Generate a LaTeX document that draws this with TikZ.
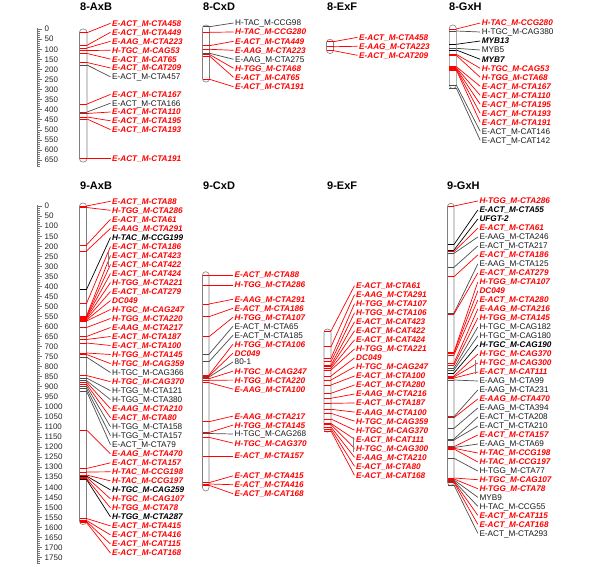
\documentclass[tikz,border=0pt]{standalone}
\usepackage{fontspec}
\setmainfont{Liberation Sans}
\definecolor{mred}{RGB}{255,0,0}
\colorlet{txtr}{mred}\colorlet{txtb}{black}\colorlet{txtk}{black!90}
\colorlet{lnr}{mred}\colorlet{lnb}{black}\colorlet{lnk}{black!70}
\def\fntr{\bfseries\itshape}\def\fntb{\bfseries\itshape}\def\fntk{}
\tikzset{
 chrom/.style={draw=black!50, fill=white, line width=0.6pt, rounded corners=3.2pt, inner sep=0pt},
 mline/.style={line width=0.7pt},
 mlab/.style={anchor=west, inner sep=0pt, text height=5.9pt, text depth=0pt, font=\fontsize{8.2}{9}\selectfont},
 ttl/.style={anchor=west, inner sep=0pt, font=\fontsize{11}{13}\selectfont\bfseries, text height=8pt, text depth=0pt},
 rul/.style={draw=black!55, line width=0.5pt},
 rlab/.style={anchor=west, inner sep=0pt, text height=5.8pt, text depth=0pt, font=\fontsize{8}{9}\selectfont, text=black!85},
 pairbar/.style={draw=black!50, line width=0.6pt}
}
\newcommand\chromo[5]{\node[chrom, minimum width={(#3-#2)*1pt}, minimum height={(#5-#4)*1pt}] (#1) at ({(#2+#3)/2},{(#4+#5)/2}) {};}
\newcommand\markers[5]{%
 \foreach \cy/\ly/\st/\tx [count=\i] in {#5}{%
   \coordinate (#1c\i) at (#3,\cy);
   \draw[mline,draw=ln\st] (#2,\cy) -- (#1c\i);
   \node[mlab,text=txt\st] (#1l\i) at (#4,\ly) {\csname fnt\st\endcsname\tx};
   \draw[mline,draw=ln\st] (#1c\i) -- ([xshift=-1.5pt]#1l\i.west);
 }}
\newcommand\ruler[5]{%
 \draw[rul] (37,{#2-5*#3}) coordinate (#1top) -- (37,{#2+#5*#3}) coordinate (#1bot);
 \foreach \v in {0,10,...,#5} \draw[rul] (37,{#2+\v*#3}) -- ++(2.6,0);
 \foreach \v in {0,50,...,#4} {\draw[rul] (37,{#2+\v*#3}) -- ++(4.6,0);
   \node[rlab] (#1n\v) at (44.5,{#2+\v*#3}) {\v};}
}
\begin{document}
\begin{tikzpicture}[x=1pt,y=-1pt]
\useasboundingbox (0,0) rectangle (600,567);
% titles
\node[ttl] (t8a) at (80,6.5) {8-AxB};
\node[ttl] (t8c) at (203,6.5) {8-CxD};
\node[ttl] (t8e) at (327,6.5) {8-ExF};
\node[ttl] (t8g) at (449,6.5) {8-GxH};
\node[ttl] (t9a) at (80,185.5) {9-AxB};
\node[ttl] (t9c) at (203,185.5) {9-CxD};
\node[ttl] (t9e) at (327,185.5) {9-ExF};
\node[ttl] (t9g) at (447,185.5) {9-GxH};
% rulers
\ruler{ra}{29}{0.2015}{650}{680}
\ruler{rb}{206}{0.2008}{1750}{1780}
% 8-AxB
\chromo{c8a}{79.5}{87}{29}{162}
\markers{a8}{79.5}{87}{112}{32.7/23.3/r/E-ACT\_M-CTA458,
45.3/32.3/r/E-ACT\_M-CTA449,
48/41.3/r/E-AAG\_M-CTA223,
50.5/50.3/r/H-TGC\_M-CAG53,
53.5/59.1/r/E-ACT\_M-CAT65,
62.5/68/r/E-ACT\_M-CAT209,
65/76.8/k/E-ACT\_M-CTA457,
104/94.4/r/E-ACT\_M-CTA167,
112/103.2/k/E-ACT\_M-CTA166,
113.5/112/r/E-ACT\_M-CTA110,
117/120.8/r/E-ACT\_M-CTA195,
119/129.6/r/E-ACT\_M-CTA193,
158.7/158.7/r/E-ACT\_M-CTA191}
% 8-CxD
\chromo{c8c}{202.5}{209.5}{25}{82}
\markers{c8}{202.5}{209.5}{235}{26.7/23/k/H-TAC\_M-CCG98,
32.3/32/r/H-TAC\_M-CCG280,
45.7/41.3/r/E-ACT\_M-CTA449,
49.3/50.3/r/E-AAG\_M-CTA223,
53.3/59.3/k/E-AAG\_M-CTA275,
54.5/68.3/r/H-TGG\_M-CTA68,
56/77.3/r/E-ACT\_M-CAT65,
79.3/86.7/r/E-ACT\_M-CTA191}
% 8-ExF
\chromo{c8e}{326.5}{333.5}{39.3}{53.5}
\markers{e8}{326.5}{333.5}{359}{41.7/37.3/r/E-ACT\_M-CTA458,
46.7/46.3/r/E-AAG\_M-CTA223,
50.7/55.3/r/E-ACT\_M-CAT209}
% 8-GxH
\chromo{c8g}{449.3}{456.3}{25}{88.5}
\markers{g8}{449.3}{456.3}{481.7}{29/23/r/H-TAC\_M-CCG280,
31/32/k/H-TGC\_M-CAG380,
44.3/41/b/MYB13,
48.3/50/k/MYB5,
50/59.3/b/MYB7,
54.3/68.3/r/H-TGC\_M-CAG53,
55.3/77.3/r/H-TGG\_M-CTA68,
66.7/86.3/r/E-ACT\_M-CTA167,
67.7/95.3/r/E-ACT\_M-CTA110,
68.5/104.3/r/E-ACT\_M-CTA195,
69.2/113.3/r/E-ACT\_M-CTA193,
70/122.3/r/E-ACT\_M-CTA191,
85/131.3/k/E-ACT\_M-CAT146,
88/140.3/k/E-ACT\_M-CAT142}
% 9-AxB
\chromo{c9a}{79.5}{86.5}{203}{524.5}
\markers{a9}{79.5}{86.5}{112}{206/201.3/r/E-ACT\_M-CTA88,
207.5/210.3/r/H-TGG\_M-CTA286,
245/219.3/r/E-ACT\_M-CTA61,
251/228.4/r/E-AAG\_M-CTA291,
289.5/237.4/b/H-TAC\_M-CCG199,
303.5/246.4/r/E-ACT\_M-CTA186,
316/255.4/r/E-ACT\_M-CAT423,
316.5/264.5/r/E-ACT\_M-CAT422,
317.2/273.5/r/E-ACT\_M-CAT424,
318/282.5/r/H-TGG\_M-CTA221,
319/291.5/r/E-ACT\_M-CAT279,
320/300.5/r/DC049,
321/309.5/r/H-TGC\_M-CAG247,
327.5/318.5/r/H-TGG\_M-CTA220,
336.5/327.5/r/E-AAG\_M-CTA217,
339.5/336.5/r/E-ACT\_M-CTA187,
343/345.5/r/E-ACT\_M-CTA100,
353/354.5/r/H-TGG\_M-CTA145,
354.5/363.6/r/H-TGC\_M-CAG359,
357/372.6/k/H-TGC\_M-CAG366,
375.5/381.7/r/H-TGC\_M-CAG370,
378/390.7/k/H-TGG\_M-CTA121,
380.5/399.7/k/H-TGG\_M-CTA380,
382/408.7/r/E-AAG\_M-CTA210,
384/417.7/r/E-ACT\_M-CTA80,
386/426.8/k/H-TGG\_M-CTA158,
388.5/435.8/k/H-TGG\_M-CTA157,
391/444.8/k/E-ACT\_M-CTA79,
430/453.8/r/E-AAG\_M-CTA470,
468.5/462.8/r/E-ACT\_M-CTA157,
472/471.8/r/H-TAC\_M-CCG198,
475/480.9/r/H-TAC\_M-CCG197,
476/489.9/b/H-TGC\_M-CAG259,
477/498.9/r/H-TGC\_M-CAG107,
478.5/507.9/r/H-TGG\_M-CTA78,
479.5/516.9/b/H-TGG\_M-CTA287,
518.5/525.9/r/E-ACT\_M-CTA415,
520.5/534.9/r/E-ACT\_M-CTA416,
521.5/544/r/E-ACT\_M-CAT115,
522.5/553/r/E-ACT\_M-CAT168}
\draw[pairbar] (108.3,251.7) -- (108.3,266.7);
% 9-CxD
\chromo{c9c}{202.5}{209}{271.7}{491}
\markers{c9}{202.5}{209}{234.5}{275/275/r/E-ACT\_M-CTA88,
285/285/r/H-TGG\_M-CTA286,
304/299.3/r/E-AAG\_M-CTA291,
316.7/308.3/r/E-ACT\_M-CTA186,
336.7/317.3/r/H-TGG\_M-CTA107,
354.3/326.2/k/E-ACT\_M-CTA65,
361.7/335.2/k/E-ACT\_M-CTA185,
375/344.2/r/H-TGG\_M-CTA106,
376/353.1/r/DC049,
377/362/k/80-1,
378.7/371.2/r/H-TGC\_M-CAG247,
380.3/380.1/r/H-TGG\_M-CTA220,
382.7/389.1/r/E-AAG\_M-CTA100,
421.7/416.1/r/E-AAG\_M-CTA217,
432.5/425.1/r/H-TGG\_M-CTA145,
433.5/434/k/H-TGC\_M-CAG268,
437.3/443.1/r/H-TGC\_M-CAG370,
456/456/r/E-ACT\_M-CTA157,
482.7/475.8/r/E-ACT\_M-CTA415,
484/484.7/r/E-ACT\_M-CTA416,
485.3/493.7/r/E-ACT\_M-CAT168}
% 9-ExF
\chromo{c9e}{324}{331}{329}{432}
\markers{e9}{324}{331}{356}{331/285.7/r/E-ACT\_M-CTA61,
346.7/294.7/r/E-AAG\_M-CTA291,
358.3/303.7/r/H-TGG\_M-CTA107,
361.7/312.8/r/H-TGG\_M-CTA106,
365/321.8/r/E-ACT\_M-CAT423,
366.7/330.8/r/E-ACT\_M-CAT422,
368.3/339.9/r/E-ACT\_M-CAT424,
370/348.9/r/H-TGG\_M-CTA221,
376/357.9/r/DC049,
380/366.9/r/H-TGC\_M-CAG247,
385/376/r/E-ACT\_M-CTA100,
393.3/385/r/E-ACT\_M-CTA280,
398.3/394/r/E-AAG\_M-CTA216,
403.3/403/r/E-ACT\_M-CTA187,
409.3/412.1/r/E-AAG\_M-CTA100,
413.3/421.1/r/H-TGC\_M-CAG359,
419/430.1/r/H-TGC\_M-CAG370,
423.5/439.2/r/E-ACT\_M-CAT111,
424.5/448.3/r/H-TGC\_M-CAG300,
427/457.3/r/E-AAG\_M-CTA210,
429/466.3/r/E-ACT\_M-CTA80,
431/475.3/r/E-ACT\_M-CAT168}
\draw[pairbar] (353.3,436.7) -- (353.3,451.7);
% 9-GxH
\chromo{c9g}{447.5}{454}{203.3}{485.5}
\markers{g9}{447.5}{454}{479.3}{206/201/r/H-TGG\_M-CTA286,
244.5/210/b/E-ACT\_M-CTA55,
250/219/b/UFGT-2,
251.7/228/r/E-ACT\_M-CTA61,
253.3/237/k/E-AAG\_M-CTA246,
267.3/246/k/E-ACT\_M-CTA217,
276.7/255/r/E-ACT\_M-CTA186,
313/264/k/E-AAG\_M-CTA125,
314/273/r/E-ACT\_M-CAT279,
352/282/r/H-TGG\_M-CTA107,
353/291/r/DC049,
355/300/r/E-ACT\_M-CTA280,
363/309/r/E-AAG\_M-CTA216,
365/318/r/H-TGG\_M-CTA145,
368/327/k/H-TGC\_M-CAG182,
370/336/k/H-TGC\_M-CAG180,
373/345/b/H-TGC\_M-CAG190,
376/354/r/H-TGC\_M-CAG370,
377/363/r/H-TGC\_M-CAG300,
378/372/r/E-ACT\_M-CAT111,
380/381/k/E-AAG\_M-CTA99,
416.7/390/k/E-AAG\_M-CTA231,
417.7/399/r/E-AAG\_M-CTA470,
428.3/408/k/E-AAG\_M-CTA394,
439/417/k/E-ACT\_M-CTA208,
440/426/k/E-ACT\_M-CTA210,
446.7/435/r/E-ACT\_M-CTA157,
447.5/444/k/E-AAG\_M-CTA69,
448.3/453/r/H-TAC\_M-CCG198,
449/462/r/H-TAC\_M-CCG197,
458.3/471/k/H-TGG\_M-CTA77,
478/479.7/r/H-TGC\_M-CAG107,
479/488.7/r/H-TGG\_M-CTA78,
480/497.3/k/MYB9,
481/506.3/k/H-TAC\_M-CCG55,
481.7/515.3/r/E-ACT\_M-CAT115,
482.5/524.3/r/E-ACT\_M-CAT168,
485/533.3/k/E-ACT\_M-CTA293}
\draw[pairbar] (475.7,360) -- (475.7,374);
\end{tikzpicture}
\end{document}
